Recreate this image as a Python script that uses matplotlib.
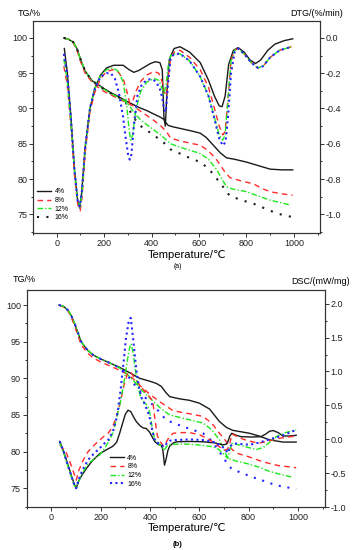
import matplotlib
matplotlib.use("Agg")
import matplotlib.pyplot as plt
from matplotlib.ticker import MultipleLocator
from matplotlib.lines import Line2D

plt.rcParams['font.family'] = ['Liberation Sans', 'DejaVu Sans']

labels = ['4%', '8%', '12%', '16%']

# ---------------- panel (a): TG ----------------
tga_4_T = [30, 50, 70, 85, 100, 120, 150, 170, 200, 230, 260, 290, 320, 350, 380, 410, 435, 450, 460, 470, 490, 530, 570, 605, 630, 660, 690, 716, 750, 800, 850, 900, 950, 995]
tga_4 = [100, 99.8, 99.4, 98.5, 97.0, 95.3, 93.9, 93.5, 92.8, 92.2, 91.7, 91.1, 90.6, 90.1, 89.7, 89.2, 88.8, 88.5, 88.0, 87.6, 87.4, 87.1, 86.8, 86.5, 85.9, 84.8, 83.7, 83.0, 82.8, 82.4, 81.9, 81.4, 81.3, 81.3]
tga_8_T = [30, 50, 70, 85, 100, 120, 145, 170, 200, 230, 260, 290, 320, 350, 380, 410, 440, 465, 480, 520, 560, 605, 640, 675, 705, 730, 770, 830, 870, 900, 950, 995]
tga_8 = [100, 99.8, 99.3, 98.3, 96.7, 95.0, 93.9, 93.1, 92.4, 91.9, 91.4, 90.9, 90.4, 89.7, 89.0, 88.3, 87.5, 86.6, 85.8, 85.4, 85.1, 84.8, 84.0, 82.7, 81.2, 80.2, 79.8, 79.3, 78.6, 78.2, 77.9, 77.7]
tga_12_T = [30, 50, 70, 85, 100, 120, 145, 170, 200, 230, 260, 290, 310, 330, 360, 400, 440, 480, 520, 560, 605, 640, 675, 700, 716, 740, 800, 850, 900, 950, 985]
tga_12 = [100, 99.8, 99.4, 98.5, 97.0, 95.3, 94.1, 93.4, 92.7, 92.1, 91.6, 91.0, 90.2, 89.2, 88.2, 87.2, 86.2, 85.0, 84.5, 84.1, 83.6, 82.8, 81.3, 79.8, 78.9, 78.6, 78.2, 77.6, 77.0, 76.6, 76.3]
tga_16_T = [30, 50, 70, 85, 100, 120, 145, 170, 200, 230, 260, 290, 305, 320, 350, 380, 410, 450, 480, 520, 560, 605, 640, 690, 730, 780, 830, 880, 930, 995]
tga_16 = [100, 99.8, 99.4, 98.5, 97.0, 95.3, 94.1, 93.4, 92.7, 92.1, 91.6, 90.9, 89.9, 88.9, 87.6, 86.9, 86.2, 85.2, 84.2, 83.6, 83.0, 82.4, 81.5, 79.4, 77.6, 77.0, 76.5, 75.8, 75.1, 74.6]

# ---------------- panel (a): DTG ----------------
dtg_4_T = [32, 45, 60, 75, 88, 97, 105, 120, 140, 160, 185, 210, 240, 280, 305, 325, 345, 370, 395, 415, 435, 445, 452, 458, 465, 475, 495, 520, 560, 605, 640, 665, 685, 697, 710, 725, 745, 765, 790, 815, 838, 860, 890, 920, 960, 995]
dtg_4 = [-0.06, -0.20, -0.45, -0.75, -0.92, -0.965, -0.88, -0.62, -0.40, -0.29, -0.21, -0.17, -0.155, -0.155, -0.18, -0.195, -0.185, -0.165, -0.145, -0.135, -0.14, -0.18, -0.45, -0.50, -0.30, -0.12, -0.06, -0.05, -0.08, -0.14, -0.24, -0.33, -0.385, -0.39, -0.33, -0.15, -0.07, -0.055, -0.08, -0.125, -0.145, -0.125, -0.07, -0.035, -0.015, -0.005]
dtg_8_T = [30, 45, 60, 75, 88, 99, 107, 120, 140, 160, 185, 210, 238, 260, 280, 295, 308, 320, 335, 355, 380, 410, 430, 445, 455, 462, 470, 480, 495, 520, 560, 605, 640, 665, 685, 700, 710, 722, 735, 750, 765, 790, 820, 848, 870, 900, 940, 990]
dtg_8 = [-0.16, -0.27, -0.5, -0.78, -0.94, -0.98, -0.90, -0.65, -0.42, -0.31, -0.23, -0.19, -0.18, -0.195, -0.23, -0.30, -0.37, -0.36, -0.30, -0.245, -0.21, -0.19, -0.20, -0.25, -0.31, -0.33, -0.22, -0.12, -0.08, -0.07, -0.11, -0.18, -0.28, -0.40, -0.50, -0.55, -0.53, -0.35, -0.13, -0.07, -0.06, -0.09, -0.14, -0.17, -0.16, -0.11, -0.07, -0.05]
dtg_12_T = [30, 45, 60, 75, 88, 98, 107, 120, 140, 160, 185, 210, 238, 260, 280, 295, 305, 312, 320, 335, 355, 380, 410, 430, 445, 452, 460, 470, 480, 495, 520, 560, 605, 640, 665, 685, 700, 710, 722, 735, 750, 765, 790, 820, 848, 870, 900, 940, 990]
dtg_12 = [-0.12, -0.25, -0.48, -0.76, -0.92, -0.96, -0.88, -0.63, -0.40, -0.29, -0.21, -0.18, -0.17, -0.19, -0.25, -0.38, -0.52, -0.58, -0.55, -0.40, -0.30, -0.25, -0.23, -0.24, -0.29, -0.32, -0.27, -0.16, -0.10, -0.09, -0.09, -0.13, -0.22, -0.33, -0.45, -0.55, -0.58, -0.55, -0.35, -0.13, -0.07, -0.06, -0.09, -0.14, -0.17, -0.16, -0.11, -0.07, -0.05]
dtg_16_T = [30, 45, 60, 75, 88, 97, 106, 120, 140, 160, 185, 210, 228, 245, 262, 280, 292, 302, 308, 315, 325, 340, 360, 385, 405, 420, 435, 445, 452, 460, 470, 480, 495, 520, 560, 605, 640, 665, 685, 700, 712, 722, 735, 750, 765, 790, 820, 848, 870, 900, 940, 990]
dtg_16 = [-0.09, -0.22, -0.46, -0.75, -0.92, -0.955, -0.87, -0.62, -0.40, -0.29, -0.22, -0.20, -0.20, -0.23, -0.31, -0.45, -0.58, -0.67, -0.69, -0.66, -0.50, -0.33, -0.26, -0.235, -0.235, -0.25, -0.29, -0.34, -0.40, -0.42, -0.25, -0.12, -0.09, -0.09, -0.13, -0.22, -0.33, -0.46, -0.57, -0.61, -0.59, -0.45, -0.20, -0.08, -0.06, -0.09, -0.14, -0.17, -0.16, -0.11, -0.07, -0.05]

# ---------------- panel (b): TG ----------------
tgb_4_T = [31, 50, 67, 80, 94, 108, 121, 145, 169, 196, 223, 250, 277, 310, 358, 400, 426, 446, 466, 480, 520, 560, 601, 642, 682, 710, 736, 770, 804, 845, 885, 940, 993]
tgb_4 = [100, 99.8, 99.3, 98.6, 97.5, 96.2, 95.0, 93.9, 93.2, 92.7, 92.3, 91.9, 91.5, 90.9, 90.0, 89.6, 89.3, 88.9, 88.0, 87.5, 87.2, 87.0, 86.6, 85.8, 84.1, 83.3, 82.9, 82.7, 82.5, 82.1, 81.6, 81.3, 81.3]
tgb_8_T = [31, 50, 67, 80, 94, 108, 121, 145, 169, 196, 223, 250, 277, 300, 330, 360, 400, 440, 466, 493, 521, 570, 615, 650, 682, 709, 730, 750, 800, 858, 920, 993]
tgb_8 = [100, 99.7, 99.2, 98.4, 97.2, 95.8, 94.6, 93.5, 92.8, 92.3, 91.9, 91.5, 91.1, 90.7, 90.0, 89.0, 87.8, 86.8, 86.2, 85.6, 85.4, 85.1, 84.8, 83.9, 82.5, 81.4, 80.4, 79.8, 79.3, 78.6, 78.1, 77.8]
tgb_12_T = [31, 50, 67, 80, 94, 108, 121, 145, 169, 196, 223, 250, 277, 300, 330, 360, 400, 440, 480, 540, 615, 650, 682, 700, 716, 750, 790, 840, 885, 940, 980]
tgb_12 = [100, 99.8, 99.3, 98.6, 97.5, 96.2, 95.0, 93.9, 93.2, 92.7, 92.3, 91.9, 91.4, 90.8, 89.8, 88.6, 87.3, 86.0, 85.0, 84.5, 83.9, 83.0, 81.6, 80.3, 79.1, 78.7, 78.4, 77.9, 77.3, 76.8, 76.5]
tgb_16_T = [31, 50, 67, 80, 94, 108, 121, 145, 169, 196, 223, 250, 277, 300, 320, 345, 380, 420, 466, 520, 570, 615, 650, 682, 705, 730, 770, 818, 870, 912, 960, 993]
tgb_16 = [100, 99.8, 99.3, 98.6, 97.5, 96.2, 95.0, 93.9, 93.2, 92.7, 92.3, 91.9, 91.4, 90.8, 89.9, 88.8, 87.4, 86.1, 84.3, 83.6, 83.0, 82.5, 81.5, 80.0, 78.8, 77.7, 77.1, 76.5, 75.9, 75.4, 75.1, 74.9]

# ---------------- panel (b): DSC ----------------
dsc_4_T = [34, 50, 65, 80, 92, 101, 110, 125, 142, 165, 196, 225, 250, 265, 277, 290, 300, 311, 322, 335, 345, 360, 372, 385, 398, 410, 419, 432, 446, 452, 459, 466, 473, 480, 495, 510, 560, 615, 660, 696, 710, 716, 724, 732, 750, 770, 810, 850, 870, 885, 900, 920, 939, 965, 993]
dsc_4 = [-0.03, -0.18, -0.35, -0.52, -0.65, -0.72, -0.62, -0.52, -0.43, -0.32, -0.21, -0.15, -0.10, -0.04, 0.09, 0.25, 0.37, 0.43, 0.41, 0.32, 0.26, 0.20, 0.17, 0.16, 0.11, 0.03, -0.03, -0.07, -0.09, -0.15, -0.38, -0.28, -0.16, -0.10, -0.05, -0.035, -0.03, -0.035, -0.05, -0.08, -0.07, -0.035, 0.05, 0.09, 0.06, 0.04, 0.035, 0.04, 0.08, 0.12, 0.13, 0.10, 0.05, 0.05, 0.06]
dsc_8_T = [34, 50, 61, 75, 90, 101, 112, 130, 149, 175, 196, 215, 230, 248, 264, 280, 295, 308, 318, 328, 340, 358, 380, 400, 412, 420, 430, 445, 455, 465, 480, 495, 520, 560, 600, 640, 670, 690, 702, 712, 722, 732, 750, 780, 820, 850, 885, 930, 993]
dsc_8 = [-0.08, -0.15, -0.2, -0.33, -0.48, -0.6, -0.45, -0.30, -0.18, -0.08, -0.01, 0.05, 0.09, 0.18, 0.33, 0.55, 0.80, 0.96, 1.0, 0.96, 0.88, 0.80, 0.70, 0.62, 0.55, 0.30, 0.05, -0.05, -0.10, -0.05, 0.05, 0.09, 0.10, 0.10, 0.07, 0.0, -0.08, -0.13, -0.16, -0.15, -0.10, 0.08, 0.05, 0.0, -0.04, -0.05, -0.02, 0.02, 0.05]
dsc_12_T = [34, 50, 65, 80, 92, 101, 110, 125, 149, 175, 196, 215, 236, 250, 263, 280, 295, 310, 318, 324, 330, 340, 350, 362, 375, 390, 400, 410, 420, 435, 450, 458, 468, 480, 500, 560, 620, 655, 680, 702, 716, 724, 732, 760, 800, 831, 860, 890, 912, 950, 993]
dsc_12 = [-0.05, -0.2, -0.37, -0.54, -0.67, -0.72, -0.62, -0.50, -0.36, -0.28, -0.23, -0.14, -0.01, 0.10, 0.28, 0.55, 0.85, 1.20, 1.36, 1.41, 1.30, 1.05, 0.80, 0.62, 0.55, 0.50, 0.38, 0.15, 0.0, -0.06, -0.12, -0.16, -0.10, -0.08, -0.07, -0.07, -0.09, -0.11, -0.15, -0.23, -0.28, -0.15, -0.06, -0.08, -0.12, -0.15, -0.12, -0.03, 0.04, 0.10, 0.14]
dsc_16_T = [34, 50, 65, 80, 92, 101, 110, 125, 149, 175, 196, 215, 230, 250, 262, 270, 280, 292, 303, 313, 322, 331, 338, 345, 355, 365, 375, 385, 397, 410, 420, 435, 448, 458, 468, 480, 500, 560, 620, 660, 690, 702, 716, 724, 743, 775, 804, 840, 885, 940, 993]
dsc_16 = [-0.03, -0.18, -0.36, -0.53, -0.66, -0.72, -0.60, -0.46, -0.30, -0.20, -0.13, -0.06, -0.01, 0.12, 0.28, 0.43, 0.70, 1.10, 1.50, 1.72, 1.79, 1.51, 1.25, 1.02, 0.78, 0.62, 0.55, 0.46, 0.35, 0.12, -0.02, -0.06, -0.09, -0.11, -0.06, -0.02, -0.01, 0.0, -0.01, -0.04, -0.10, -0.13, -0.20, -0.10, -0.06, -0.07, -0.08, -0.05, 0.0, 0.06, 0.14]

x_ticks = [0, 200, 400, 600, 800, 1000]

BLACK = '#1a1a1a'
RED = '#ff2a2a'
GREEN = '#1ee81e'
BLUE = '#2424ff'

sty = {
    '4%': dict(color=BLACK, lw=1.0, ls='-'),
    '8%': dict(color=RED, lw=1.0, dashes=(4, 3)),
    '12%': dict(color=GREEN, lw=1.0, dashes=(4, 1.5, 1, 1.5)),
    '16b': dict(color=BLUE, lw=1.5, dashes=(1, 1.6)),
    '16b_sparse': dict(color=BLUE, lw=1.5, dashes=(1, 3.2)),
    '16k': dict(color=BLACK, lw=1.5, dashes=(1, 3.5)),
}

fig = plt.figure(figsize=(3.55, 5.5), dpi=100)
W, H = 355, 550


def axes_px(l, t, r, b):
    return fig.add_axes([l / W, 1 - b / H, (r - l) / W, (b - t) / H])


def style_axis(ax, left=True):
    for s in ax.spines.values():
        s.set_linewidth(0.8)
        s.set_color('#333333')
    ax.tick_params(which='both', direction='out', labelsize=6.5, width=0.7, pad=1.5, colors='#333333', labelcolor='#222222')
    ax.tick_params(which='major', length=2.6)
    ax.tick_params(which='minor', length=1.6)


# ---------- panel (a) ----------
ax1 = axes_px(33, 21, 320, 233)
ax1.plot(tga_4_T, tga_4, **sty['4%'])
ax1.plot(tga_8_T, tga_8, **sty['8%'])
ax1.plot(tga_12_T, tga_12, **sty['12%'])
ax1.plot(tga_16_T, tga_16, **sty['16k'])
ax1.set_xlim(-100, 1110)
ax1.set_ylim(72.35, 102.4)
ax1.set_xticks(x_ticks)
ax1.xaxis.set_minor_locator(MultipleLocator(100))
ax1.set_yticks([75, 80, 85, 90, 95, 100])
ax1.yaxis.set_minor_locator(MultipleLocator(2.5))
style_axis(ax1)

ax1r = ax1.twinx()
ax1r.plot(dtg_4_T, dtg_4, **sty['4%'])
ax1r.plot(dtg_8_T, dtg_8, **sty['8%'])
ax1r.plot(dtg_12_T, dtg_12, **sty['12%'])
ax1r.plot(dtg_16_T, dtg_16, **sty['16b'])
ax1r.set_ylim((72.35 - 100) / 25, (102.4 - 100) / 25)
ax1r.set_yticks([-1.0, -0.8, -0.6, -0.4, -0.2, 0.0])
ax1r.yaxis.set_minor_locator(MultipleLocator(0.1))
ax1r.set_yticklabels(['-1.0', '-0.8', '-0.6', '-0.4', '-0.2', '0.0'])
style_axis(ax1r)

h_a = [Line2D([], [], **sty['4%']), Line2D([], [], **sty['8%']),
       Line2D([], [], **sty['12%']), Line2D([], [], **sty['16k'])]
ax1.legend(h_a, labels, loc='lower left', bbox_to_anchor=(0.0, 0.035), frameon=False,
           fontsize=5, handlelength=2.0, handletextpad=0.5, labelspacing=0.25, borderaxespad=0.2)

fig.text(18 / W, 1 - 14 / H, 'TG/%', fontsize=6.5, ha='left', va='center')
fig.text(343 / W, 1 - 14 / H, 'DTG/(%/min)', fontsize=6.5, ha='right', va='center')
fig.text(187 / W, 1 - 255 / H, 'Temperature/℃', fontsize=8, ha='center', va='center')
fig.text(178 / W, 1 - 267 / H, '(a)', fontsize=5, ha='center', va='center')

# ---------- panel (b) ----------
ax2 = axes_px(26.7, 290, 325, 507.3)
ax2.plot(tgb_4_T, tgb_4, **sty['4%'])
ax2.plot(tgb_8_T, tgb_8, **sty['8%'])
ax2.plot(tgb_12_T, tgb_12, **sty['12%'])
ax2.plot(tgb_16_T, tgb_16, **sty['16b_sparse'])
ax2.set_xlim(-100, 1110)
ax2.set_ylim(72.4, 102.05)
ax2.set_xticks(x_ticks)
ax2.xaxis.set_minor_locator(MultipleLocator(100))
ax2.set_yticks([75, 80, 85, 90, 95, 100])
ax2.yaxis.set_minor_locator(MultipleLocator(2.5))
style_axis(ax2)

ax2r = ax2.twinx()
ax2r.plot(dsc_4_T, dsc_4, **sty['4%'])
ax2r.plot(dsc_8_T, dsc_8, **sty['8%'])
ax2r.plot(dsc_12_T, dsc_12, **sty['12%'])
ax2r.plot(dsc_16_T, dsc_16, **sty['16b'])
ax2r.set_ylim(-1.0, 2.2)
ax2r.set_yticks([-1.0, -0.5, 0.0, 0.5, 1.0, 1.5, 2.0])
ax2r.set_yticklabels(['-1.0', '-0.5', '0.0', '0.5', '1.0', '1.5', '2.0'])
ax2r.yaxis.set_minor_locator(MultipleLocator(0.25))
style_axis(ax2r)

h_b = [Line2D([], [], **sty['4%']), Line2D([], [], **sty['8%']),
       Line2D([], [], **sty['12%']), Line2D([], [], **sty['16b'])]
ax2.legend(h_b, labels, loc='lower left', bbox_to_anchor=(0.265, 0.07), frameon=False,
           fontsize=5, handlelength=2.0, handletextpad=0.5, labelspacing=0.25, borderaxespad=0.2)

fig.text(13 / W, 1 - 280 / H, 'TG/%', fontsize=6.5, ha='left', va='center')
fig.text(350 / W, 1 - 281 / H, 'DSC/(mW/mg)', fontsize=6.5, ha='right', va='center')
fig.text(187 / W, 1 - 528 / H, 'Temperature/℃', fontsize=8, ha='center', va='center')
fig.text(178 / W, 1 - 544 / H, '(b)', fontsize=5.5, ha='center', va='center', fontweight='bold')

fig.savefig('out.png', dpi=100)
